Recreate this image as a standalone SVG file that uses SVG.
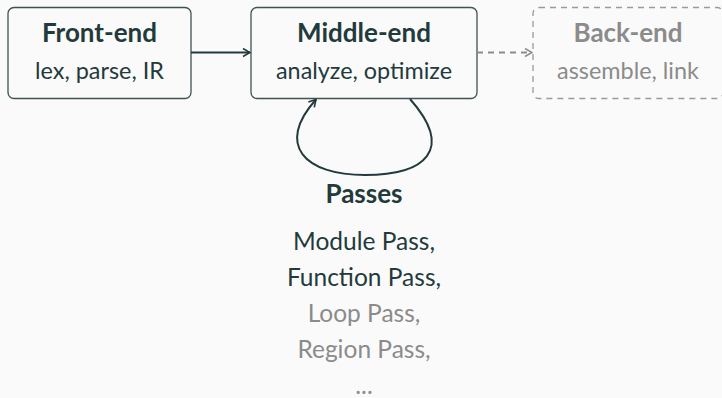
<svg xmlns="http://www.w3.org/2000/svg" width="722" height="398" viewBox="0 0 722 398">
<style>
text{font-family:Lato,"Open Sans","DejaVu Sans",sans-serif;text-anchor:middle;fill:#233a3c}
.t{font-weight:bold;font-size:26px}
.s{font-size:23.4px}
.g{fill:#8b8b8b}
.box{fill:none;stroke:#3f5355;stroke-width:1.3}
.dbox{fill:none;stroke:#9a9a9a;stroke-width:1.3;stroke-dasharray:6 5}
.p{font-size:24.5px}
</style>
<defs>
<marker id="ah" viewBox="0 0 10 10" refX="9" refY="5" markerWidth="10" markerHeight="10" markerUnits="userSpaceOnUse" orient="auto"><path d="M2,1 L9,5 L2,9" fill="none" stroke="#233a3c" stroke-width="1.6"/></marker>
<marker id="ahg" viewBox="0 0 10 10" refX="9" refY="5" markerWidth="10" markerHeight="10" markerUnits="userSpaceOnUse" orient="auto"><path d="M2,1 L9,5 L2,9" fill="none" stroke="#8b8b8b" stroke-width="1.6"/></marker>
</defs>
<rect width="722" height="398" fill="#fafafa"/>
<g id="front">
<rect class="box" x="8" y="7.5" width="183" height="91" rx="6"/>
<text class="t" x="99.5" y="42">Front-end</text>
<text class="s" x="99.5" y="79">lex, parse, IR</text>
</g>
<g id="middle">
<rect class="box" x="251" y="7.5" width="226" height="91" rx="6"/>
<text class="t" x="364" y="42">Middle-end</text>
<text class="s" x="364" y="79">analyze, optimize</text>
</g>
<g id="back">
<rect class="dbox" x="533" y="7.5" width="190" height="91" rx="6"/>
<text class="t g" x="628" y="42">Back-end</text>
<text class="s g" x="628" y="79">assemble, link</text>
</g>
<g id="connectors">
<line x1="191" y1="52.5" x2="250" y2="52.5" stroke="#233a3c" stroke-width="1.8" marker-end="url(#ah)"/>
<line x1="477" y1="52.5" x2="532" y2="52.5" stroke="#8b8b8b" stroke-width="1.8" stroke-dasharray="6 5" marker-end="url(#ahg)"/>
<path d="M410,99 C455,150 425,175 365,175 C305,175 275,145 316,99.5" fill="none" stroke="#233a3c" stroke-width="2" marker-end="url(#ah)"/>
</g>
<g id="passes">
<text class="t" x="364" y="203">Passes</text>
<text class="p" x="364" y="250">Module Pass,</text>
<text class="p" x="364" y="286">Function Pass,</text>
<text class="p g" x="364" y="322">Loop Pass,</text>
<text class="p g" x="364" y="358">Region Pass,</text>
<text class="p g" x="364" y="394">...</text>
</g>
</svg>
